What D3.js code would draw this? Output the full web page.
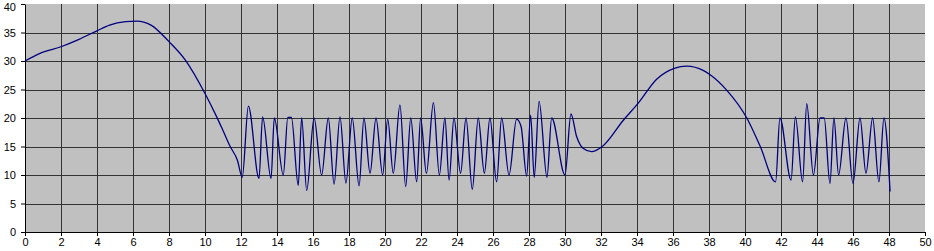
<!DOCTYPE html>
<html>
<head>
<meta charset="utf-8">
<script src="https://cdn.jsdelivr.net/npm/d3@7"></script>
<style>
  html, body { margin: 0; padding: 0; background: #fff; }
  svg { display: block; }
</style>
</head>
<body>
<svg id="chart"></svg>
<script>
// readings, [time, value]
const warmup = [
  [0, 30], [0.8, 31.3], [2, 32.5], [3, 33.8], [4, 35.3], [4.7, 36.3], [5.6, 36.9],
  [6.2, 37], [7, 36.3], [8, 33.4], [8.9, 30.2], [10, 24.3], [10.65, 20.2], [11, 17.8],
  [11.4, 15], [11.8, 12.6], [12.07, 9.6]
];
const burst1 = [
  [12.41, 22.1], [13.0, 9.4], [13.2, 20.2], [13.67, 9.4], [13.85, 20], [14.35, 10],
  [14.6, 20.1], [14.8, 20.1], [15.18, 8.2], [15.37, 20], [15.65, 7.3], [16.06, 20],
  [16.48, 10], [16.85, 20], [17.17, 8.4], [17.5, 20.2], [17.83, 8.6], [18.18, 20],
  [18.56, 8.1], [18.83, 20], [19.17, 10.3], [19.5, 20], [19.87, 10], [20.15, 19.8],
  [20.46, 10.3], [20.83, 22.3], [21.15, 7.95], [21.43, 20], [21.76, 8.8], [21.98, 20],
  [22.3, 10.3], [22.69, 22.7], [23.02, 10], [23.33, 20], [23.56, 9.1], [23.83, 20],
  [24.2, 10.3], [24.5, 20], [24.85, 7.5], [25.18, 20], [25.52, 10.3], [25.83, 20],
  [26.2, 8.8], [26.48, 20], [26.89, 10], [27.31, 19.8], [27.56, 18.5], [27.87, 9.8],
  [28.09, 20.5], [28.29, 9.6], [28.56, 22.9], [29.0, 9.6], [29.26, 20], [30.0, 10]
];
const hump = [
  [30.33, 20.7], [30.65, 16.7], [31.0, 14.7], [31.48, 14.1], [32.07, 15.0], [33.24, 19.6],
  [34.07, 22.6], [35.09, 26.8], [36.07, 28.7], [36.76, 29.1], [37.7, 28.3], [38.1, 27.5],
  [38.98, 24.9], [40.1, 20], [40.85, 15], [41.7, 8.8]
];
const burst2 = [
  [41.94, 20], [42.56, 9.1], [42.8, 20.2], [43.2, 8.8], [43.43, 22.5], [43.8, 10],
  [44.17, 20], [44.4, 20], [44.72, 8.5], [44.94, 20], [45.2, 10], [45.61, 20], [46.0, 8.5],
  [46.39, 20], [46.72, 10.3], [47.09, 20], [47.44, 8.8], [47.72, 20], [48.06, 7.1]
];

const xTicks = d3.range(0, 51, 2);
const yTicks = [0, 5, 10, 15, 20, 25, 30, 35, 40];

const data = warmup.concat(burst1, hump, burst2);

const margin = { top: 4, right: 9, bottom: 19, left: 25 },
  width = 934 - margin.left - margin.right,
  height = 251 - margin.top - margin.bottom;

const svg = d3.select('#chart')
  .attr('width', width + margin.left + margin.right)
  .attr('height', height + margin.top + margin.bottom)
  .append('g')
  .attr('transform', 'translate(' + margin.left + ',' + margin.top + ')');

const x = d3.scaleLinear().domain([0, 50]).range([0, width]);
const y = d3.scaleLinear().domain([0, 40]).range([height, 0]);

// plot area
svg.append('rect')
  .attr('width', width)
  .attr('height', height)
  .attr('fill', '#c0c0c0');

// gridlines
svg.append('g')
  .selectAll('line')
  .data(xTicks.filter(d => d > 0 && d < 50))
  .enter()
  .append('line')
  .attr('x1', d => Math.round(x(d)) + 0.5)
  .attr('x2', d => Math.round(x(d)) + 0.5)
  .attr('y1', 0)
  .attr('y2', height)
  .attr('stroke', '#333')
  .attr('stroke-width', 1);

svg.append('g')
  .selectAll('line')
  .data(yTicks.filter(d => d > 0 && d < 40))
  .enter()
  .append('line')
  .attr('x1', 0)
  .attr('x2', width)
  .attr('y1', d => Math.round(y(d)) + 0.5)
  .attr('y2', d => Math.round(y(d)) + 0.5)
  .attr('stroke', '#333')
  .attr('stroke-width', 1);

// axes
const xAxis = svg.append('g')
  .attr('transform', 'translate(0,' + height + ')')
  .call(d3.axisBottom(x).tickValues(xTicks).tickSize(4).tickPadding(2).tickSizeOuter(0));

const yAxis = svg.append('g')
  .call(d3.axisLeft(y).tickValues(yTicks).tickSize(4).tickPadding(5).tickSizeOuter(0));

[xAxis, yAxis].forEach(function (g) {
  g.select('.domain').attr('stroke', '#000');
  g.selectAll('.tick line').attr('stroke', '#000');
  g.selectAll('.tick text')
    .attr('fill', '#000')
    .style('font-family', '"Liberation Sans", Arial, sans-serif')
    .style('font-size', '11px');
});

// keep the top label inside the picture
yAxis.selectAll('.tick text').filter(d => d === 40).attr('dy', '0.55em');

// the line
svg.append('path')
  .datum(data)
  .attr('fill', 'none')
  .attr('stroke', '#000080')
  .attr('stroke-width', 1.3)
  .attr('d', d3.line()
    .x(function (d) { return x(d[0]); })
    .y(function (d) { return y(d[1]); })
    .curve(d3.curveMonotoneX));
</script>
</body>
</html>
